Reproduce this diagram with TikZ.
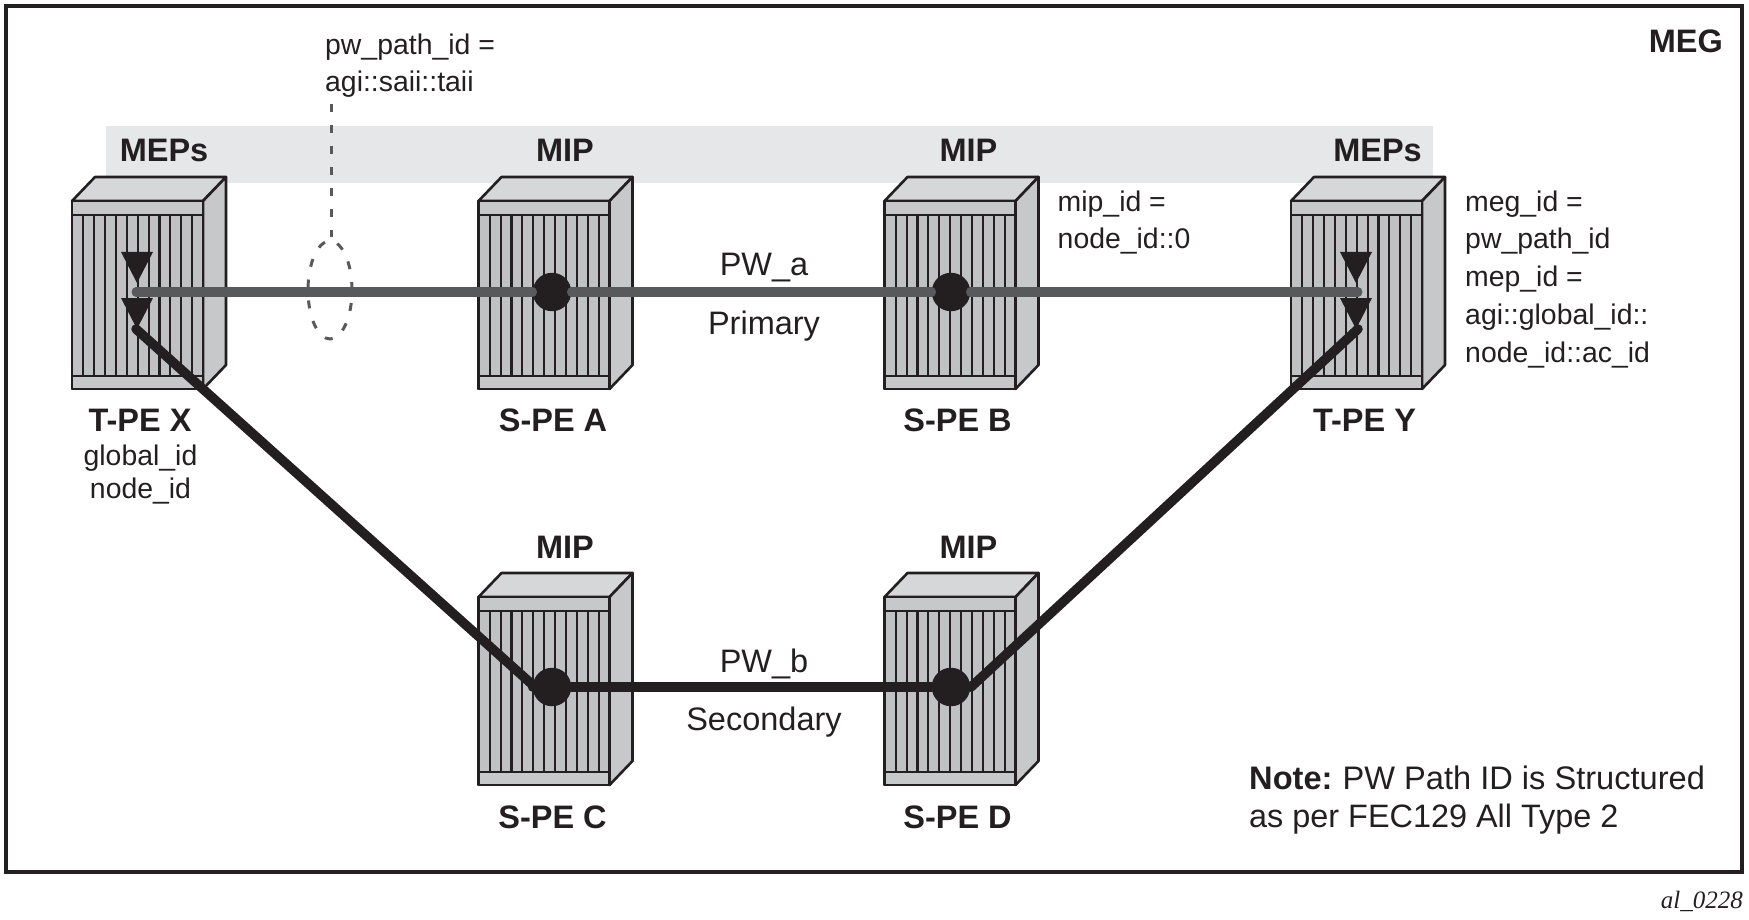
\documentclass[tikz,border=0pt]{standalone}
\usepackage{fontspec}
\setmainfont{Liberation Sans}
\newfontfamily\serifit{Liberation Serif}
\usetikzlibrary{shapes.geometric}
\definecolor{ink}{HTML}{231F20}
\definecolor{pri}{HTML}{58595B}
\definecolor{bandc}{HTML}{E6E7E8}
\definecolor{sidec}{HTML}{C7C8CA}
\definecolor{topc}{HTML}{D6D7D9}
\definecolor{slotc}{HTML}{C0C1C3}
\newcommand{\routerbox}[3]{%
  \begin{scope}[shift={(#2,#3)}]
    \filldraw[rackline,fill=topc] (0,0) -- (23,-24) -- (154,-24) -- (131,0) -- cycle;
    \filldraw[rackline,fill=sidec] (131,0) -- (154,-24) -- (154,164) -- (131,188) -- cycle;
    \node[front face] (#1) at (0,0) {};
    \draw[rackline,fill=slotc] (0,14) rectangle (131,175);
    \draw[rackline,fill=sidec] (0,0) rectangle (131,14);
    \draw[rackline,fill=sidec] (0,175) rectangle (131,188);
    \foreach \i in {0,...,10} \draw[slot line] ({11.2+\i*10.9},14) -- ({11.2+\i*10.9},175);
  \end{scope}}
\tikzset{
  rackline/.style={draw=ink,line width=2.6pt,line join=round},
  slot line/.style={draw=ink,line width=2.1pt},
  front face/.style={rectangle,draw=ink,line width=2.6pt,line join=round,fill=sidec,anchor=north west,inner sep=0pt,outer sep=0pt,minimum width=131pt,minimum height=188pt},
  reg/.style={text=ink,font=\fontsize{28.4}{28.4}\selectfont,anchor=base west,inner sep=0pt},
  regc/.style={reg,anchor=base},
  pwlab/.style={regc,font=\fontsize{32.5}{32.5}\selectfont},
  bold/.style={text=ink,font=\fontsize{32.5}{32.5}\selectfont\bfseries,anchor=base,inner sep=0pt},
  mip dot/.style={circle,fill=ink,inner sep=0pt,minimum size=38.5pt},
  mep tri/.style={fill=ink},
  primary/.style={draw=pri,line width=9pt,line cap=round},
  secondary/.style={draw=ink,line width=9.5pt,line cap=round,line join=round},
  dashgrey/.style={draw=pri,line width=3pt,dash pattern=on 8pt off 13pt},
}
\begin{document}
\begin{tikzpicture}[x=1pt,y=-1pt]
\useasboundingbox (0,0) rectangle (1749,920);
\draw[ink,line width=3.2pt] (6,6) rectangle (1742,872);
\fill[bandc] (106,126) rectangle (1433,183);
\routerbox{tpex}{72}{201}
\routerbox{spea}{478.5}{201}
\routerbox{speb}{884.5}{201}
\routerbox{tpey}{1291}{201}
\routerbox{spec}{478.5}{597}
\routerbox{sped}{884.5}{597}
% MEP triangles
\fill[mep tri] (121,252) -- (153,252) -- (137,283) -- cycle;
\fill[mep tri] (121,298) -- (153,298) -- (137,329) -- cycle;
\fill[mep tri] (1340,252) -- (1372,252) -- (1356,283) -- cycle;
\fill[mep tri] (1340,298) -- (1372,298) -- (1356,329) -- cycle;
% lasso
\node[ellipse,dashgrey,minimum width=44pt,minimum height=98pt,inner sep=0pt] (lasso) at (330,290) {};
\coordinate (lassotop) at (331,237);
\coordinate (lassofree) at (331,104);
\draw[dashgrey] (lassofree) -- (lassotop);
% points
\coordinate (xp) at (136,292);
\coordinate (yp) at (1358,292);
\coordinate (xs) at (136,329);
\coordinate (ys) at (1358,329);
\node[mip dot] (a) at (552,292) {};
\node[mip dot] (b) at (951,292) {};
\node[mip dot] (c) at (552,687) {};
\node[mip dot] (d) at (951,687) {};
\coordinate (cw) at (535,687);
\coordinate (de) at (971,687);
% connectors
\draw[primary] (xp) -- (a);
\draw[primary] (a) -- (b);
\draw[primary] (b) -- (yp);
\draw[secondary] (xs) -- (cw) -- (c);
\draw[secondary] (c) -- (d);
\draw[secondary] (d) -- (de) -- (ys);
% labels
\node[reg] (t1) at (325,55) {pw\_path\_id =};
\node[reg] (t2) at (325,92) {agi::saii::taii};
\node[bold,anchor=base east] (meg) at (1723,53) {MEG};
\node[bold] (m1) at (164,162) {MEPs};
\node[bold] (m2) at (565,162) {MIP};
\node[bold] (m3) at (968.5,162) {MIP};
\node[bold] (m4) at (1377.5,162) {MEPs};
\node[bold] (m5) at (565,558) {MIP};
\node[bold] (m6) at (968.5,558) {MIP};
\node[bold] (n1) at (140,431) {T-PE X};
\node[bold] (n2) at (553,431) {S-PE A};
\node[bold] (n3) at (957.5,431) {S-PE B};
\node[bold] (n4) at (1364.5,431) {T-PE Y};
\node[bold] (n5) at (552.5,828) {S-PE C};
\node[bold] (n6) at (957.5,828) {S-PE D};
\node[regc] (g1) at (140.5,465) {global\_id};
\node[regc] (g2) at (140.5,498) {node\_id};
\node[reg] (h1) at (1057.5,212) {mip\_id =};
\node[reg] (h2) at (1057.5,249) {node\_id::0};
\node[reg] (k1) at (1465,212) {meg\_id =};
\node[reg] (k2) at (1465,249) {pw\_path\_id};
\node[reg] (k3) at (1465,287) {mep\_id =};
\node[reg] (k4) at (1465,324) {agi::global\_id::};
\node[reg] (k5) at (1465,362) {node\_id::ac\_id};
\node[pwlab] (l1) at (764,276) {PW\_a};
\node[pwlab] (l2) at (764,334) {Primary};
\node[pwlab] (l3) at (764,672) {PW\_b};
\node[pwlab] (l4) at (764,730) {Secondary};
\node[reg,font=\fontsize{32.6}{32.6}\selectfont] (note1) at (1249,789) {\textbf{Note:}\hspace{-2pt} PW Path ID is Structured};
\node[reg,font=\fontsize{32.4}{32.4}\selectfont] (note2) at (1249,827) {as per FEC129 All Type 2};
\node[text=ink,anchor=base east,inner sep=0pt,font=\serifit\fontsize{25}{25}\selectfont\itshape] (code) at (1743,908) {al\_0228};
\end{tikzpicture}
\end{document}
